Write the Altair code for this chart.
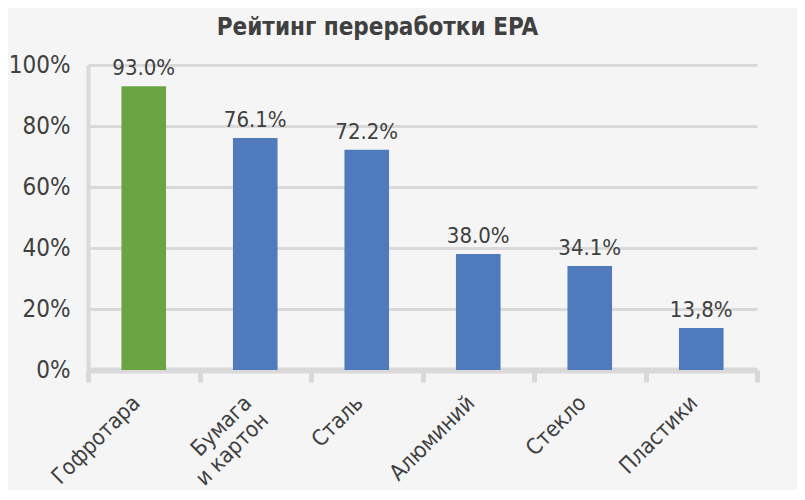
import altair as alt
import pandas as pd

categories = ["Гофротара", "Бумага\nи картон", "Сталь", "Алюминий", "Стекло", "Пластики"]
values = [93.0, 76.1, 72.2, 38.0, 34.1, 13.8]
value_labels = ["93.0%", "76.1%", "72.2%", "38.0%", "34.1%", "13,8%"]
bar_colors = ["#6aa443", "#4f7bbd", "#4f7bbd", "#4f7bbd", "#4f7bbd", "#4f7bbd"]
y_ticks = [0, 20, 40, 60, 80, 100]
title_text = "Рейтинг переработки EPA"

FONT = "Liberation Sans Narrow, DejaVu Sans Condensed, sans-serif"
TEXT = "#404040"
GRID = "#d9d9d9"
BG = "#f5f5f5"

df = pd.DataFrame({"cat": categories, "val": values, "lab": value_labels})

x = alt.X(
    "cat:N",
    sort=categories,
    scale=alt.Scale(paddingInner=0, paddingOuter=0),
    axis=alt.Axis(
        title=None,
        labelAngle=-45,
        labelAlign="right",
        labelBaseline="top",
        labelFont=FONT,
        labelFontSize=22,
        labelColor=TEXT,
        labelPadding=10,
        labelOffset=-15,
        labelLineHeight=24,
        labelExpr="split(datum.label, '\\n')",
        labelLimit=300,
        domainColor=GRID,
        domainWidth=6,
        tickColor=GRID,
        tickWidth=5,
        tickSize=12,
        tickBand="extent",
        grid=False,
    ),
)

y = alt.Y(
    "val:Q",
    scale=alt.Scale(domain=[0, 100], nice=False),
    axis=alt.Axis(
        title=None,
        values=y_ticks,
        labelExpr="datum.value + '%'",
        labelFont=FONT,
        labelFontSize=24,
        labelColor=TEXT,
        labelPadding=18,
        ticks=False,
        domainColor=GRID,
        domainWidth=4,
        gridColor=GRID,
        gridWidth=3,
    ),
)

bars = alt.Chart(df).mark_bar(width={"band": 0.4}).encode(
    x=x,
    y=y,
    color=alt.Color(
        "cat:N",
        scale=alt.Scale(domain=categories, range=bar_colors),
        legend=None,
    ),
)

labels = alt.Chart(df).mark_text(
    font=FONT, fontSize=22, color=TEXT, baseline="alphabetic", dy=-11
).encode(
    x=alt.X("cat:N", sort=categories),
    y=alt.Y("val:Q"),
    text="lab:N",
)

chart = (
    alt.layer(bars, labels)
    .properties(
        width=669,
        height=305,
        background=BG,
        padding={"left": 80, "top": 57, "right": 40, "bottom": 120},
        autosize=alt.AutoSizeParams(type="none"),
        title=alt.TitleParams(
            text=title_text,
            font=FONT,
            fontSize=24,
            fontWeight="bold",
            color=TEXT,
            anchor="middle",
            frame="group",
            dx=-45,
            offset=13,
        ),
    )
    .configure_view(stroke=None)
)

chart.save("out.html", embed_options={"renderer": "svg", "actions": False})
